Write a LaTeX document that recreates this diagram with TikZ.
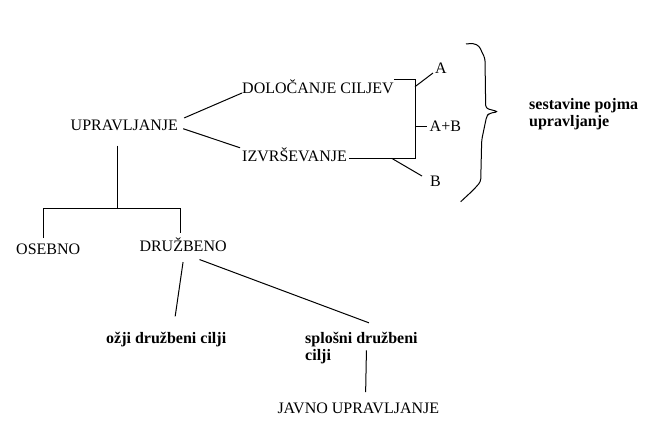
\documentclass[tikz,border=0pt]{standalone}
\usepackage{fontspec}
\setmainfont{Liberation Serif}
\usetikzlibrary{calc}
\tikzset{
	txt/.style={inner sep=0pt, anchor=base west, font=\fontsize{16}{17}\selectfont},
	txtb/.style={txt, font=\fontsize{16}{17}\selectfont\bfseries, align=left},
	ln/.style={line width=1pt}
}
\begin{document}
\begin{tikzpicture}[x=1pt, y=-1pt]
		%%%%% START %%%%%
		\useasboundingbox[fill=white] (0, 0) rectangle (646, 423);
		
		\node[txt] (upr) at (70.5, 130.7) {UPRAVLJANJE};
		\node[txt] (dol) at (242, 93) {DOLOČANJE CILJEV};
		\node[txt] (izv) at (242, 161.7) {IZVRŠEVANJE};
		
		\node[txt] (a) at (435, 73) {A};
		\node[txt] (ab) at (429.5, 131.7) {A+B};
		\node[txt] (b) at (430, 186.7) {B};
		
		% last line sits on the base
		\node[txtb] (sest) at (529, 126.5) {sestavine pojma\\upravljanje};
		
		\node[txt] (os) at (16, 254) {OSEBNO};
		\node[txt] (dr) at (139.3, 251.7) {DRUŽBENO};
		\node[txtb] (oz) at (106, 343.3) {ožji družbeni cilji};
		\node[txtb] (sp) at (305, 360.3) {splošni družbeni\\cilji};
		\node[txt] (jv) at (277.3, 413) {JAVNO UPRAVLJANJE};
		
		\coordinate (jt) at (415, 79.3);
		\coordinate (jb) at (415, 158.3);
		\coordinate (jbb) at (391.7, 158.3);
		\coordinate (split) at (117.7, 208.3);
		\coordinate (tl) at (43.3, 208.3);
		\coordinate (tr) at (180, 208.3);
		
		\draw[ln] ([xshift=6pt, yshift=2pt]upr.north east) -- (dol.base west);
		\draw[ln] ([xshift=5pt, yshift=2pt]upr.base east) -- ([xshift=-2pt]izv.north west);
		
		\draw[ln] (dol.east |- jt) -- (jt) -- (jb) -- ([xshift=2pt]izv.east |- jb);
		\draw[ln] ($(jt)+(0, 7.4)$) -- ([xshift=-2pt]a.base west);
		\draw[ln] (jt |- ab.west) -- ([xshift=-3pt]ab.west);
		\draw[ln] (jbb) -- ([xshift=-8pt]b.north west);
		
		% brace
		\draw[ln, rounded corners=3pt] (466, 44) -- (473.3, 43.3) -- (479.3, 46) -- (481.7, 51.7) -- (485, 58.3) -- (485.7, 108.3) -- (498.3, 111.7) -- (489.3, 113.3) -- (486.7, 116) -- (481.7, 140) -- (480.7, 181.7) -- (473.3, 190) -- (460.7, 201.7);
		
		\draw[ln] ([yshift=-15pt]split |- upr.base) -- (split);
		\draw[ln] ([yshift=5pt]tl |- os.north) -- (tl) -- (tr) -- ([yshift=5pt]tr |- dr.north);
		
		\draw[ln] ([yshift=-10pt]dr.south) -- ([xshift=9pt, yshift=15.5pt]oz.north);
		\draw[ln] ([xshift=16.5pt, yshift=-7.5pt]dr.south) -- ([xshift=7.5pt, yshift=9pt]sp.north);
		\draw[ln] ([xshift=5pt, yshift=13.5pt]sp.south) -- ([xshift=7.3pt, yshift=10pt]jv.north);
		%%%%% END %%%%%
\end{tikzpicture}
\end{document}
